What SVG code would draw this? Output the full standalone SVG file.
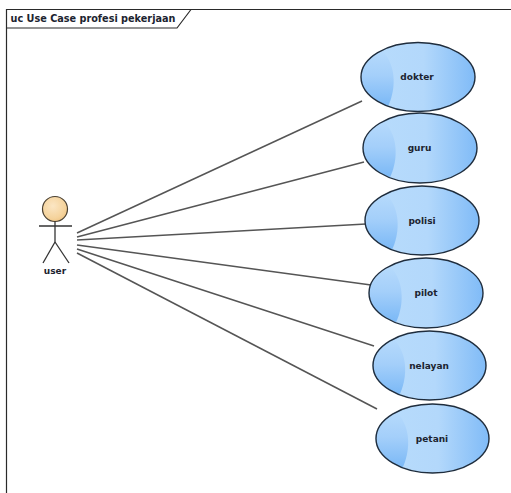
<svg xmlns="http://www.w3.org/2000/svg" width="511" height="493" viewBox="0 0 511 493">
<style>
text{font-family:"DejaVu Sans","Liberation Sans",sans-serif;font-weight:bold;font-size:9px;fill:#1c2430;text-anchor:middle}
.uc{fill:url(#g)}
.ol{fill:none;stroke:#1f2d3d;stroke-width:1.4}
.c line{stroke:#555;stroke-width:1.5}
.a line{stroke:#333;stroke-width:1.3}
</style>
<defs>
<linearGradient id="g" x1="0" x2="1" y1="0" y2="0"><stop offset="0" stop-color="#b8dcfc"/><stop offset=".55" stop-color="#b3d8fb"/><stop offset="1" stop-color="#80bbf7"/></linearGradient>
<linearGradient id="cg" x1="0" x2="0" y1="0" y2="1"><stop offset="0" stop-color="#b6dafc"/><stop offset=".45" stop-color="#a4cffa"/><stop offset="1" stop-color="#7ab8f6"/></linearGradient>
<radialGradient id="h" cx=".42" cy=".38" r=".7"><stop offset="0" stop-color="#fbe6c4"/><stop offset=".7" stop-color="#f5d39c"/><stop offset="1" stop-color="#eec17e"/></radialGradient>
<path id="cr" fill="url(#cg)" d="M-36 -26.700A57 34.500 0 0 0 -30 29.300C-23 15 -20 -10 -36 -26.700Z"/>
</defs>
<rect width="511" height="493" fill="#fff"/>
<g id="frame" fill="none" stroke="#2a2a2a" stroke-width="1.2">
<path d="M511 9.500H6.500V493"/>
<path d="M6.500 28H177L191 9.500"/>
<text x="93" y="22" style="stroke:none;font-size:9.700px">uc Use Case profesi pekerjaan</text>
</g>
<g id="connectors" class="c">
<line x1="77" y1="233" x2="362" y2="101"/>
<line x1="77" y1="237" x2="364" y2="162"/>
<line x1="77" y1="240" x2="366" y2="224"/>
<line x1="77" y1="245" x2="371" y2="285"/>
<line x1="77" y1="249" x2="374" y2="346"/>
<line x1="77" y1="253" x2="377" y2="409"/>
</g>
<g id="actor-user" class="a">
<circle cx="55" cy="209" r="12.500" fill="url(#h)" stroke="#4a4032" stroke-width="1.2"/>
<line x1="55" y1="221.500" x2="55" y2="242"/>
<line x1="39" y1="226" x2="72" y2="226"/>
<line x1="55" y1="242" x2="43" y2="263"/>
<line x1="55" y1="242" x2="69" y2="263"/>
<text x="55" y="274">user</text>
</g>
<g id="uc-dokter"><ellipse class="uc" cx="418" cy="77" rx="57" ry="34.500"/><use href="#cr" x="418" y="77"/><ellipse class="ol" cx="418" cy="77" rx="57" ry="34.500"/><text x="417" y="80">dokter</text></g>
<g id="uc-guru"><ellipse class="uc" cx="420" cy="148" rx="57" ry="35"/><use href="#cr" x="420" y="148"/><ellipse class="ol" cx="420" cy="148" rx="57" ry="35"/><text x="419.500" y="151">guru</text></g>
<g id="uc-polisi"><ellipse class="uc" cx="422" cy="220.500" rx="57" ry="34.500"/><use href="#cr" x="422" y="220.500"/><ellipse class="ol" cx="422" cy="220.500" rx="57" ry="34.500"/><text x="422" y="224">polisi</text></g>
<g id="uc-pilot"><ellipse class="uc" cx="426" cy="293" rx="57" ry="35"/><use href="#cr" x="426" y="293"/><ellipse class="ol" cx="426" cy="293" rx="57" ry="35"/><text x="426" y="296">pilot</text></g>
<g id="uc-nelayan"><ellipse class="uc" cx="429.500" cy="365.500" rx="56.500" ry="34.500"/><use href="#cr" x="429.500" y="365.500"/><ellipse class="ol" cx="429.500" cy="365.500" rx="56.500" ry="34.500"/><text x="429" y="369">nelayan</text></g>
<g id="uc-petani"><ellipse class="uc" cx="432.500" cy="438.500" rx="56.500" ry="34.500"/><use href="#cr" x="432.500" y="438.500"/><ellipse class="ol" cx="432.500" cy="438.500" rx="56.500" ry="34.500"/><text x="432" y="442">petani</text></g>
</svg>
